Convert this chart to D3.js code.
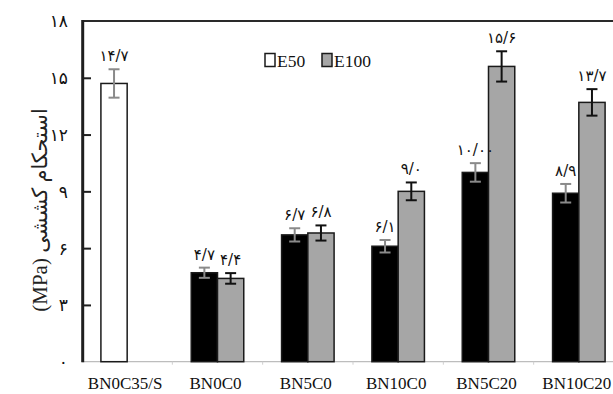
<!DOCTYPE html>
<html>
<head>
<meta charset="utf-8">
<script src="https://cdn.jsdelivr.net/npm/d3@7"></script>
<style>
  html, body { margin: 0; padding: 0; background: #fff; }
  svg { display: block; }
</style>
</head>
<body>
<svg id="chart" width="613" height="394"></svg>
<script>
// Tensile strength by mix, two curing series
const categories = ["BN0C35/S", "BN0C0", "BN5C0", "BN10C0", "BN5C20", "BN10C20"];
const seriesNames = ["E50", "E100"];
const e50Values = [14.7, 4.7, 6.7, 6.1, 10.0, 8.9];
const e100Values = [null, 4.4, 6.8, 9.0, 15.6, 13.7];
const e50Errors = [0.75, 0.27, 0.35, 0.33, 0.49, 0.49];
const e100Errors = [null, 0.28, 0.40, 0.47, 0.80, 0.70];
const e50Decimals = [1, 1, 1, 1, 2, 1];
const e100Decimals = [null, 1, 1, 1, 1, 1];
const yTicks = [0, 3, 6, 9, 12, 15, 18];
const yTitle = "(MPa) استحکام کششی";

const faDigits = "۰۱۲۳۴۵۶۷۸۹";
const toFa = s => String(s).replace(/[0-9]/g, d => faDigits[+d]).replace(".", "/");

const svg = d3.select("#chart");
const plotLeft = 82, plotTop = 21, plotBottom = 361.7, bandEnd = 624;

const y = d3.scaleLinear().domain([0, 18]).range([plotBottom, plotTop]);
const x0 = d3.scaleBand().domain(categories).range([plotLeft, bandEnd]).paddingInner(0).paddingOuter(0);
const x1 = d3.scaleBand().domain(seriesNames).range([0, x0.bandwidth()]).paddingInner(0).paddingOuter(0.72);

const GRAY = "#a6a6a6";

// rows of bars
const rows = [];
categories.forEach((c, i) => {
  rows.push({ cat: c, s: "E50", v: e50Values[i], e: e50Errors[i], d: e50Decimals[i], i });
  if (e100Values[i] != null) rows.push({ cat: c, s: "E100", v: e100Values[i], e: e100Errors[i], d: e100Decimals[i], i });
});

// bottom axis line and category boundary ticks
svg.append("line").attr("x1", plotLeft).attr("x2", 613).attr("y1", plotBottom).attr("y2", plotBottom)
  .attr("stroke", "#bdbdbd").attr("stroke-width", 1.2);
categories.slice(1).forEach(c => {
  const xx = x0(c);
  svg.append("line").attr("x1", xx).attr("x2", xx).attr("y1", plotBottom).attr("y2", plotBottom + 3)
    .attr("stroke", "#cfcfcf").attr("stroke-width", 1);
});

// bars
const fillFor = r => r.s === "E100" ? GRAY : (r.i === 0 ? "#fff" : "#000");
svg.append("g").selectAll("rect").data(rows).join("rect")
  .attr("x", r => x0(r.cat) + x1(r.s))
  .attr("y", r => y(r.v))
  .attr("width", x1.bandwidth())
  .attr("height", r => y(0) - y(r.v))
  .attr("fill", fillFor)
  .attr("stroke", "#1a1a1a")
  .attr("stroke-width", 1.5);

// error bars
const errColor = r => r.s === "E100" ? "#111" : "#8a8a8a";
const eg = svg.append("g");
rows.forEach(r => {
  const cx = x0(r.cat) + x1(r.s) + x1.bandwidth() / 2;
  const y1 = y(r.v + r.e), y2 = y(r.v - r.e);
  const col = errColor(r);
  eg.append("line").attr("x1", cx).attr("x2", cx).attr("y1", y1).attr("y2", y2).attr("stroke", col).attr("stroke-width", 2);
  [y1, y2].forEach(yy => eg.append("line").attr("x1", cx - 5.5).attr("x2", cx + 5.5).attr("y1", yy).attr("y2", yy)
    .attr("stroke", col).attr("stroke-width", 2));
});

// value labels
svg.append("g").selectAll("text").data(rows).join("text")
  .attr("x", r => x0(r.cat) + x1(r.s) + x1.bandwidth() / 2)
  .attr("y", r => y(r.v + r.e) - 8)
  .attr("text-anchor", "middle")
  .attr("font-family", "DejaVu Sans")
  .attr("font-size", 15)
  .attr("fill", "#111")
  .text(r => toFa(r.v.toFixed(r.d)));

// frame: left axis and top edge
svg.append("line").attr("x1", plotLeft).attr("x2", 613).attr("y1", plotTop).attr("y2", plotTop)
  .attr("stroke", "#2a2a2a").attr("stroke-width", 2.2);
svg.append("line").attr("x1", plotLeft + 0.7).attr("x2", plotLeft + 0.7).attr("y1", plotTop - 1).attr("y2", plotBottom + 0.5)
  .attr("stroke", "#1f1f1f").attr("stroke-width", 3);

// y ticks and labels
const yAxis = d3.axisLeft(y).tickValues(yTicks).tickSize(-9).tickPadding(0).tickFormat(d => toFa(d));
const ya = svg.append("g").attr("transform", `translate(${plotLeft},0)`).call(yAxis);
ya.select(".domain").remove();
ya.selectAll(".tick line").attr("stroke", "#1f1f1f").attr("stroke-width", 2)
  .attr("display", d => (d === 0 || d === 18) ? "none" : null);
ya.selectAll(".tick text")
  .attr("x", -14)
  .attr("dy", "0.35em")
  .attr("font-family", "DejaVu Sans")
  .attr("font-size", 17)
  .attr("fill", "#111");

// x labels
svg.append("g").selectAll("text").data(categories).join("text")
  .attr("x", c => x0(c) + x0.bandwidth() / 2 - 2)
  .attr("y", 389)
  .attr("text-anchor", "middle")
  .attr("font-family", "Liberation Serif")
  .attr("font-size", 17)
  .attr("fill", "#111")
  .text(c => c);

// y title
svg.append("text")
  .attr("transform", "translate(47,210) rotate(-90)")
  .attr("text-anchor", "middle")
  .attr("font-family", "'Liberation Serif', 'DejaVu Sans'")
  .attr("font-size", 21)
  .attr("fill", "#222")
  .text(yTitle);

// legend
const legendItems = [
  { name: seriesNames[0], fill: "#fff", x: 265 },
  { name: seriesNames[1], fill: GRAY, x: 322 }
];
const lg = svg.append("g");
legendItems.forEach(it => {
  lg.append("rect").attr("x", it.x).attr("y", 53.5).attr("width", 10).attr("height", 13)
    .attr("fill", it.fill).attr("stroke", "#1a1a1a").attr("stroke-width", 1.5);
  lg.append("text").attr("x", it.x + 12).attr("y", 66.5)
    .attr("font-family", "Liberation Serif").attr("font-size", 17.5).attr("fill", "#111")
    .text(it.name);
});
</script>
</body>
</html>
